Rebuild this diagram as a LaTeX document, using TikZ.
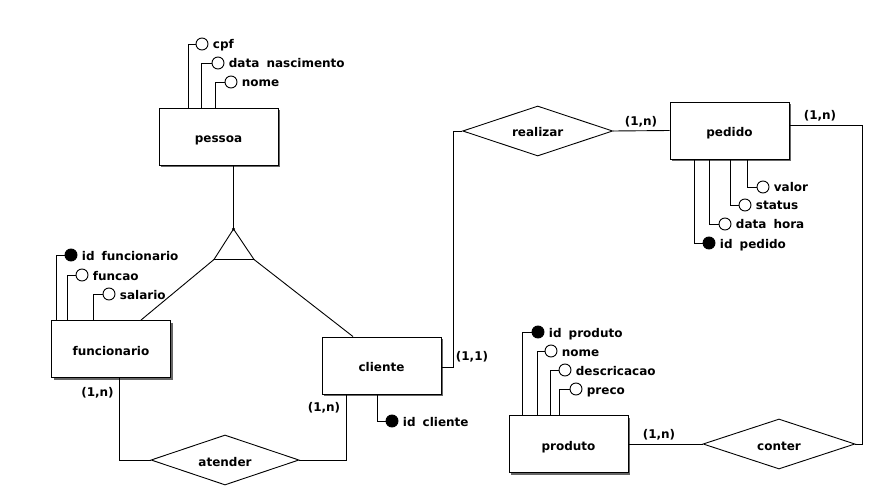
\documentclass[tikz,border=0pt]{standalone}
\usepackage{fontspec}
\setmainfont{DejaVu Sans}[WordSpace=1.7]
\usetikzlibrary{shapes.geometric,shadows}
\begin{document}
\begin{tikzpicture}[x=1pt,y=-1pt,line width=0.9pt,
  every node/.style={font=\fontsize{12}{14}\selectfont\bfseries},
  entity/.style={draw,fill=white,rectangle,minimum width=119pt,minimum height=57pt,inner sep=0pt,
    text height=12pt,text depth=0pt,
    drop shadow={shadow xshift=2pt,shadow yshift=-2pt,fill=black!60,opacity=1}},
  rel/.style={draw,fill=white,diamond,minimum width=150pt,minimum height=50pt,inner sep=0pt,shape aspect=3,
    text height=12pt,text depth=0pt},
  attr/.style={draw,circle,fill=white,minimum size=12pt,inner sep=0pt},
  keyattr/.style={attr,fill=black},
  lbl/.style={anchor=west,xshift=4pt,inner sep=0pt,text height=10pt,text depth=0pt},
  card/.style={inner sep=0pt,text height=8pt,text depth=2pt}]
\useasboundingbox (0,0) rectangle (870,489);

% entities
\node[entity] (pessoa) at (218.5,136.5) {pessoa};
\node[entity] (funcionario) at (111,349) {funcionario};
\node[entity] (cliente) at (381.5,365.5) {cliente};
\node[entity] (pedido) at (729.5,130.5) {pedido};
\node[entity] (produto) at (568.5,444) {produto};

% relationships
\node[rel] (realizar) at (537.7,131) {realizar};
\node[rel,minimum width=148pt] (atender) at (225,460) {atender};
\node[rel,minimum width=152pt] (conter) at (779,444) {conter};

% specialization triangle
\coordinate (apex) at (233.5,229);
\coordinate (tbl) at (214,259.5);
\coordinate (tbr) at (254,259.5);
\draw (apex) -- (tbl) -- (tbr) -- cycle;
\fill (apex) circle (1.6pt);
\draw (pessoa.south -| apex) -- (apex);
\draw (tbl) -- ([xshift=30pt]funcionario.north);
\draw (tbr) -- ([xshift=-28.5pt]cliente.north);

% pessoa attributes
\node[attr] (cpf) at (202,44) {};
\node[lbl] (cpft) at (cpf.east) {cpf};
\node[attr] (dn) at (218,63) {};
\node[lbl] (dnt) at (dn.east) {data nascimento};
\node[attr] (pnome) at (231,82) {};
\node[lbl] (pnomet) at (pnome.east) {nome};
\draw ([xshift=-30.5pt]pessoa.north) |- (cpf);
\draw ([xshift=-17.5pt]pessoa.north) |- (dn);
\draw ([xshift=-3.5pt]pessoa.north) |- (pnome);

% funcionario attributes
\node[keyattr] (idf) at (71,255) {};
\node[lbl] (idft) at (idf.east) {id funcionario};
\node[attr] (funcao) at (82,275) {};
\node[lbl] (funcaot) at (funcao.east) {funcao};
\node[attr] (salario) at (109,294) {};
\node[lbl] (salariot) at (salario.east) {salario};
\draw ([xshift=-55pt]funcionario.north) |- (idf);
\draw ([xshift=-44pt]funcionario.north) |- (funcao);
\draw ([xshift=-18pt]funcionario.north) |- (salario);

% cliente attribute
\node[keyattr] (idc) at (392,421) {};
\node[lbl] (idct) at (idc.east) {id cliente};
\draw ([xshift=-4.5pt]cliente.south) |- (idc);

% pedido attributes
\node[attr] (valor) at (763,187) {};
\node[lbl] (valort) at (valor.east) {valor};
\node[attr] (status) at (745,205) {};
\node[lbl] (statust) at (status.east) {status};
\node[attr] (dh) at (725,224) {};
\node[lbl] (dht) at (dh.east) {data hora};
\node[keyattr] (idp) at (709,243) {};
\node[lbl] (idpt) at (idp.east) {id pedido};
\draw ([xshift=17.5pt]pedido.south) |- (valor);
\draw ([xshift=0.5pt]pedido.south) |- (status);
\draw ([xshift=-20.5pt]pedido.south) |- (dh);
\draw ([xshift=-35.5pt]pedido.south) |- (idp);

% produto attributes
\node[keyattr] (idpr) at (538,332) {};
\node[lbl] (idprt) at (idpr.east) {id produto};
\node[attr] (prnome) at (551,351) {};
\node[lbl] (prnomet) at (prnome.east) {nome};
\node[attr] (desc) at (565,370) {};
\node[lbl] (desct) at (desc.east) {descricacao};
\node[attr] (preco) at (576,389) {};
\node[lbl] (precot) at (preco.east) {preco};
\draw ([xshift=-46.5pt]produto.north) |- (idpr);
\draw ([xshift=-31.5pt]produto.north) |- (prnome);
\draw ([xshift=-18.5pt]produto.north) |- (desc);
\draw ([xshift=-9.5pt]produto.north) |- (preco);

% relationship connectors
\draw ([xshift=8pt]funcionario.south) |- (atender.west);
\draw (atender.east) -| ([xshift=-35pt]cliente.south);
\coordinate (jr) at (453,131);
\draw ([yshift=-1.5pt]cliente.east) -| (jr) -- (realizar.west);
\draw (realizar.east) -- (pedido.west);
\coordinate (jc) at (862,444);
\draw ([yshift=5pt]pedido.east) -| (jc) -- (conter.east);
\draw (produto.east) -- (conter.west);

% cardinalities
\node[card] (c1) at (97.5,393) {(1,n)};
\node[card] (c2) at (324,408) {(1,n)};
\node[card] (c3) at (472,357) {(1,1)};
\node[card] (c4) at (641,123) {(1,n)};
\node[card] (c5) at (820,117) {(1,n)};
\node[card] (c6) at (659,435) {(1,n)};
\end{tikzpicture}
\end{document}
